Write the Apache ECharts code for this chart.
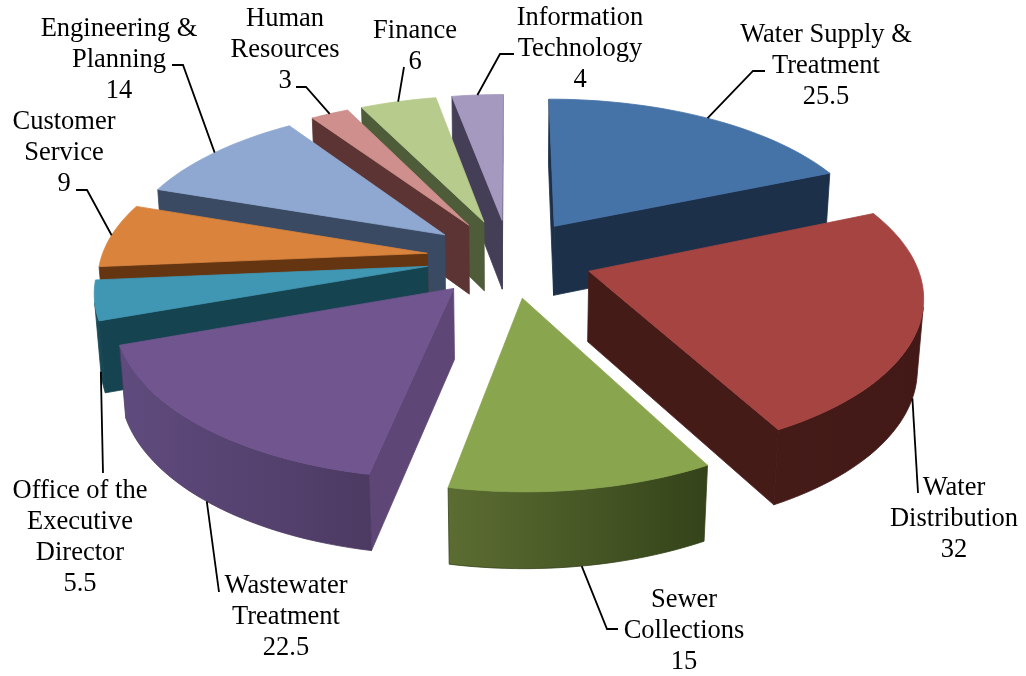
<!DOCTYPE html>
<html>
<head>
<meta charset="utf-8">
<style>html,body{margin:0;padding:0;background:#fff}#chart{width:1026px;height:676px}</style>
<script src="https://cdn.jsdelivr.net/npm/echarts@6/dist/echarts.min.js"></script>
</head>
<body>
<div id="chart"></div>
<script>
// Staff by department, drawn as an exploded perspective pie.
const departments = ['Water Supply &\nTreatment', 'Water\nDistribution', 'Sewer\nCollections', 'Wastewater\nTreatment',
  'Office of the\nExecutive\nDirector', 'Customer\nService', 'Engineering &\nPlanning', 'Human\nResources', 'Finance',
  'Information\nTechnology'];
const staff = [25.5, 32, 15, 22.5, 5.5, 9, 14, 3, 6, 4];

const topColors = ['#4572a7', '#a64441', '#89a54e', '#70558f', '#4097b3', '#d9833c', '#8fa8d1', '#ce8f8d', '#b6cb8c', '#a599bf'];
const cutColors = ['#1c3049', '#451b18', '#3a4a1e', '#5e4676', '#164350', '#653511', '#3b4a63', '#5b3433', '#4e5c3a', '#443e57'];
const rimLeft   = ['#22395a', '#451b18', '#5c6d32', '#604b7e', '#1d4f5e', '#6a3813', '#3f4f6a', '#5e3735', '#525f3c', '#48415c'];
const rimRight  = ['#1a2d45', '#421916', '#344319', '#4c3a62', '#164350', '#5f3210', '#38465e', '#573130', '#4a5737', '#403a52'];

// Projection of the pie: unit radius on the plane, depth 0..1 downwards.
const view = { cx: 509.5, cy: 258, scaleX: 326, scaleY: 153.6, depth: 70, perspX: 0.1375, perspY: 0.142, perspDepth: 0.07, drift: 0.015, explode: 0.255 };

// Text block centre and top, and the bends of each leader, listed from the label towards the slice.
const labelBoxes = [[826, 20], [954, 473], [684, 585], [286, 571], [80, 476], [64, 107], [119, 14], [285, 4], [415, 16], [580, 3]];
const leaderBends = [
  [[765, 71], [753, 71]], [[918, 493]], [[618, 629], [607, 629]], [[219, 592]], [[103, 473]],
  [[76, 190], [87, 190]], [[172, 65], [183, 65]], [[296, 87], [306, 87]], [[404, 67]], [[514, 54], [500, 54]]
];
const leaderDepths = [0, 1, 1, 1, 1, 0, 0, 0, 0, 0];

const total = staff.reduce((a, b) => a + b, 0);
const bounds = [];
staff.reduce((acc, v) => {
  bounds.push([acc / total * 2 * Math.PI, (acc + v) / total * 2 * Math.PI]);
  return acc + v;
}, 0);

function project(x, y, z) {
  const w = 1 + view.perspX * y + view.drift * z;
  return [view.cx + view.scaleX * x / w,
          view.cy - view.scaleY * y / (1 + view.perspY * y) + view.depth * z / (1 + view.perspDepth * y)];
}
function apexOf(i) {
  const mid = (bounds[i][0] + bounds[i][1]) / 2;
  return [view.explode * Math.sin(mid), view.explode * Math.cos(mid)];
}
function rimPoint(i, t) {
  const a = apexOf(i);
  return [a[0] + Math.sin(t), a[1] + Math.cos(t)];
}
function signedArea(pts) {
  let s = 0;
  pts.forEach((p, j) => { const q = pts[(j + 1) % pts.length]; s += p[0] * q[1] - q[0] * p[1]; });
  return s;
}

// One slice: visible side walls, then the top face over them.
function renderSlice(params, api) {
  const i = api.value(0);
  const rank = params.dataIndex;
  const [t0, t1] = bounds[i];
  const steps = Math.max(8, Math.ceil((t1 - t0) / 0.03));
  const plan = [apexOf(i)];
  for (let s = 0; s <= steps; s++) plan.push(rimPoint(i, t0 + (t1 - t0) * s / steps));
  const top = plan.map(p => project(p[0], p[1], 0));
  const base = plan.map(p => project(p[0], p[1], 1));
  const children = [];
  const face = (points, fill, z2, stroke) => ({
    type: 'polygon', z2: z2,
    shape: { points: points },
    style: { fill: fill, stroke: stroke, lineWidth: 0.8 }
  });
  const facing = (j, k) => signedArea([top[j], top[k], base[k], base[j]]) < 0;

  // Straight cut faces either side of the apex.
  [[0, 1], [plan.length - 1, 0]].forEach(([j, k]) => {
    if (facing(j, k)) children.push(face([top[j], top[k], base[k], base[j]], cutColors[i], rank * 10 + 1, cutColors[i]));
  });

  // The outer curved wall, kept as one shaded piece.
  const upper = [], lower = [];
  for (let j = 1; j < plan.length - 1; j++) {
    if (!facing(j, j + 1)) continue;
    if (!upper.length) { upper.push(top[j]); lower.push(base[j]); }
    upper.push(top[j + 1]); lower.push(base[j + 1]);
  }
  if (upper.length) {
    const shade = new echarts.graphic.LinearGradient(0, 0, 1, 0, [
      { offset: 0, color: rimLeft[i] }, { offset: 1, color: rimRight[i] }
    ]);
    children.push(face(upper.concat(lower.reverse()), shade, rank * 10 + 1, rimRight[i]));
  }

  children.push(face(top, topColors[i], rank * 10 + 2, topColors[i]));
  return { type: 'group', children: children };
}

// Department text and its leader line, anchored on the slice's outer edge.
function renderLabel(params, api) {
  const i = api.value(0);
  const v = api.value(1);
  const mid = (bounds[i][0] + bounds[i][1]) / 2;
  const rim = rimPoint(i, mid);
  const start = project(rim[0], rim[1], leaderDepths[i]);
  return {
    type: 'group',
    children: [
      { type: 'polyline', z2: 1000, shape: { points: leaderBends[i].concat([start]) },
        style: { fill: 'none', stroke: '#000', lineWidth: 1.8 } },
      { type: 'text', z2: 1001, x: labelBoxes[i][0], y: labelBoxes[i][1],
        style: { text: departments[i] + '\n' + v, fill: '#000', align: 'center', verticalAlign: 'top',
                 font: '26.5px "Liberation Serif"', lineHeight: 31 } }
    ]
  };
}

const drawOrder = staff.map((v, i) => i).sort((a, b) => apexOf(b)[1] - apexOf(a)[1]);
const chart = echarts.init(document.getElementById('chart'), null, { renderer: 'canvas' });
chart.setOption({
  backgroundColor: '#fff',
  animation: false,
  series: [
    { type: 'custom', coordinateSystem: 'none', silent: true, renderItem: renderSlice,
      data: drawOrder.map(i => [i, staff[i]]) },
    { type: 'custom', coordinateSystem: 'none', silent: true, renderItem: renderLabel, z: 5,
      data: staff.map((v, i) => [i, v]) }
  ]
});
</script>
</body>
</html>
